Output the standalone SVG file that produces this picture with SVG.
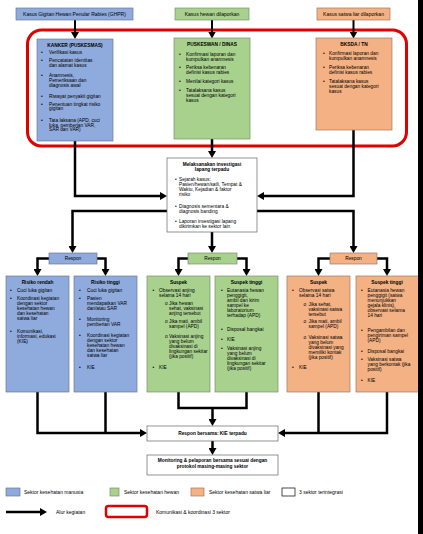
<svg xmlns="http://www.w3.org/2000/svg" width="423" height="534" viewBox="0 0 423 534">
<style>
text{font-family:"Liberation Sans",Arial,sans-serif;font-size:4.8px;fill:#000}
.b{font-weight:bold}
.m{text-anchor:middle}
.top{font-size:5px}
.lg{font-size:5px}
.blue{fill:#8faadc;stroke:#6b7a99;stroke-width:0.7}
.green{fill:#a9d18e;stroke:#7a8f6b;stroke-width:0.7}
.orange{fill:#f4b183;stroke:#9a7a66;stroke-width:0.7}
.white{fill:#fff;stroke:#666;stroke-width:0.7}
.c{fill:none;stroke:#000;stroke-width:2.5}
.ca{fill:none;stroke:#000;stroke-width:2.5;marker-end:url(#ah)}
.ct{fill:none;stroke:#000;stroke-width:2;marker-end:url(#ah)}
</style>
<defs>
<marker id="ah" markerUnits="userSpaceOnUse" markerWidth="7" markerHeight="8" refX="1" refY="4" orient="auto">
<path d="M0,0 L7,4 L0,8 z" fill="#000"/>
</marker>
</defs>
<rect width="423" height="534" fill="#fff"/>

<rect id="coord-frame" x="27.5" y="30" width="379" height="116" rx="14" fill="none" stroke="#e00000" stroke-width="3"/>

<g id="connectors">
<path class="ct" d="M75,20 V33"/>
<path class="ct" d="M212,20 V32.5"/>
<path class="ct" d="M353.5,20 V32.5"/>
<path class="ca" d="M75,141 V196 H161"/>
<path class="ca" d="M353.5,130 V196 H263"/>
<path class="ca" d="M212,139 V152"/>
<path class="ca" d="M167,211 H72.5 V247"/>
<path class="ca" d="M257,211 H353.5 V247"/>
<path class="ca" d="M212,232 V247"/>
<path class="ca" d="M49,258.5 H37.5 V270"/>
<path class="ca" d="M97,258.5 H105.5 V270"/>
<path class="ca" d="M188,258.5 H178.5 V270"/>
<path class="ca" d="M237,258.5 H246.5 V270"/>
<path class="ca" d="M330,258.5 H318.5 V270"/>
<path class="ca" d="M377,258.5 H387 V270"/>
<path class="ca" d="M37.5,392 V433 H141"/>
<path class="c" d="M105.5,392 V433"/>
<path class="c" d="M178.5,392 V408 H246.5 V392"/>
<path class="ca" d="M212.5,408 V420"/>
<path class="ca" d="M387,392 V433 H284"/>
<path class="c" d="M318.5,392 V433"/>
<path class="ca" d="M212.5,441 V449"/>
</g>

<g id="top-ghpr">
<rect class="blue" x="16" y="8" width="117" height="12"/>
<text class="m top" x="74.5" y="15.8">Kasus Gigitan Hewan Penular Rabies (GHPR)</text>
</g>
<g id="top-hewan">
<rect class="green" x="175" y="8" width="74" height="12"/>
<text class="m top" x="212" y="15.8">Kasus hewan dilaporkan</text>
</g>
<g id="top-satwa">
<rect class="orange" x="317" y="8" width="73" height="12"/>
<text class="m top" x="353.5" y="15.8">Kasus satwa liar dilaporkan</text>
</g>

<g id="puskesmas">
<rect class="blue" x="37" y="39" width="76" height="102"/>
<text class="m b" x="75" y="46.5">KANKER (PUSKESMAS)</text>
<text x="41" y="54.2">•</text><text x="49" y="54.2">Verifikasi kasus</text>
<text x="41" y="62.2">•</text><text x="49" y="62.2">Pencatatan identitas</text>
<text x="49" y="66.9">dan alamat kasus</text>
<text x="41" y="77.2">•</text><text x="49" y="77.2">Anamnesis,</text>
<text x="49" y="82.2">Pemeriksaan dan</text>
<text x="49" y="87.2">diagnosis awal</text>
<text x="41" y="98.2">•</text><text x="49" y="98.2">Riwayat penyakit gigitan</text>
<text x="41" y="105.5">•</text><text x="49" y="105.5">Penentuan tingkat risiko</text>
<text x="49" y="110.2">gigitan</text>
<text x="41" y="121.5">•</text><text x="49" y="121.5">Tata laksana (APD, cuci</text>
<text x="49" y="126.5">luka, pemberian VAR,</text>
<text x="49" y="131.2">SAR dan VAR)</text>
</g>

<g id="puskeswan">
<rect class="green" x="174" y="38" width="76" height="101"/>
<text class="m b" x="212" y="45.5">PUSKESWAN / DINAS</text>
<text x="179" y="55.5">•</text><text x="186" y="55.5">Konfirmasi laporan dan</text>
<text x="186" y="60.5">kumpulkan anamnesis</text>
<text x="179" y="69.2">•</text><text x="186" y="69.2">Periksa kebenaran</text>
<text x="186" y="74.2">definisi kasus rabies</text>
<text x="179" y="83.2">•</text><text x="186" y="83.2">Menilai kategori kasus</text>
<text x="179" y="91.5">•</text><text x="186" y="91.5">Tatalaksana kasus</text>
<text x="186" y="96.5">sesuai dengan kategori</text>
<text x="186" y="101.5">kasus</text>
</g>

<g id="bksda">
<rect class="orange" x="316" y="38" width="76" height="92"/>
<text class="m b" x="354" y="45.5">BKSDA / TN</text>
<text x="323" y="54.5">•</text><text x="329" y="54.5">Konfirmasi laporan dan</text>
<text x="329" y="59.5">kumpulkan anamnesis</text>
<text x="323" y="69.2">•</text><text x="329" y="69.2">Periksa kebenaran</text>
<text x="329" y="74.2">definisi kasus rabies</text>
<text x="323" y="83.2">•</text><text x="329" y="83.2">Tatalaksana kasus</text>
<text x="329" y="88.2">sesuai dengan kategori</text>
<text x="329" y="93.2">kasus</text>
</g>

<g id="investigasi">
<rect class="white" x="167" y="158" width="90" height="74"/>
<text class="m b" x="212" y="165.5">Melaksanakan investigasi</text>
<text class="m b" x="212" y="170.5">lapang terpadu</text>
<text x="175" y="180.8">•</text><text x="179" y="180.8">Sejarah kasus:</text>
<text x="179" y="185.8">Pasien/hewan/satli, Tempat &amp;</text>
<text x="179" y="190.8">Waktu, Kejadian &amp; faktor</text>
<text x="179" y="195.8">risiko</text>
<text x="175" y="207.5">•</text><text x="179" y="207.5">Diagnosis sementara &amp;</text>
<text x="179" y="212.5">diagnosis banding</text>
<text x="175" y="222.5">•</text><text x="179" y="222.5">Laporan investigasi lapang</text>
<text x="179" y="227.5">dikirimkan ke sektor lain</text>
</g>

<g id="respon-manusia">
<rect class="blue" x="49" y="253" width="48" height="11"/>
<text class="m" x="73" y="260.2">Respon</text>
</g>
<g id="respon-hewan">
<rect class="green" x="188" y="253" width="49" height="11"/>
<text class="m" x="212.5" y="260.2">Respon</text>
</g>
<g id="respon-satwa">
<rect class="orange" x="330" y="253" width="47" height="11"/>
<text class="m" x="353.5" y="260.2">Respon</text>
</g>

<g id="risiko-rendah">
<rect class="blue" x="6" y="276" width="63" height="116"/>
<text class="m b" x="37.5" y="284.2">Risiko rendah</text>
<text x="10" y="292.2">•</text><text x="17" y="292.2">Cuci luka gigitan</text>
<text x="10" y="299.8">•</text><text x="17" y="299.8">Koordinasi kegiatan</text>
<text x="17" y="304.8">dengan sektor</text>
<text x="17" y="309.8">kesehatan hewan</text>
<text x="17" y="314.8">dan kesehatan</text>
<text x="17" y="319.8">satwa liar</text>
<text x="10" y="333.2">•</text><text x="17" y="333.2">Komunikasi,</text>
<text x="17" y="338.2">informasi, edukasi</text>
<text x="17" y="343.2">(KIE)</text>
</g>

<g id="risiko-tinggi">
<rect class="blue" x="74" y="276" width="63" height="116"/>
<text class="m b" x="105.5" y="284.2">Risiko tinggi</text>
<text x="79" y="292.2">•</text><text x="87" y="292.2">Cuci luka gigitan</text>
<text x="79" y="299.8">•</text><text x="87" y="299.8">Pasien</text>
<text x="87" y="304.8">mendapatkan VAR</text>
<text x="87" y="309.8">dan/atau SAR</text>
<text x="79" y="320.8">•</text><text x="87" y="320.8">Monitoring</text>
<text x="87" y="325.8">pemberian VAR</text>
<text x="79" y="336.5">•</text><text x="87" y="336.5">Koordinasi kegiatan</text>
<text x="87" y="341.5">dengan sektor</text>
<text x="87" y="346.5">kesehatan hewan</text>
<text x="87" y="351.5">dan kesehatan</text>
<text x="87" y="356.5">satwa liar</text>
<text x="79" y="368.8">•</text><text x="87" y="368.8">KIE</text>
</g>

<g id="suspek-hewan">
<rect class="green" x="147" y="276" width="63" height="116"/>
<text class="m b" x="178.5" y="284.2">Suspek</text>
<text x="152.5" y="291.5">•</text><text x="159" y="291.5">Observasi anjing</text>
<text x="159" y="296.5">selama 14 hari</text>
<text x="165" y="304.8">o</text><text x="169" y="304.8">Jika hewan</text>
<text x="169" y="309.8">sehat, vaksinasi</text>
<text x="169" y="314.8">anjing tersebut</text>
<text x="165" y="323.2">o</text><text x="169" y="323.2">Jika mati, ambil</text>
<text x="169" y="327.9">sampel (APD)</text>
<text x="165" y="337.5">o</text><text x="169" y="337.5">Vaksinasi anjing</text>
<text x="169" y="342.5">yang belum</text>
<text x="169" y="347.5">divaksinasi di</text>
<text x="169" y="352.5">lingkungan sekitar</text>
<text x="169" y="357.5">(jika positif)</text>
<text x="152.5" y="368.8">•</text><text x="159" y="368.8">KIE</text>
</g>

<g id="suspek-tinggi-hewan">
<rect class="green" x="215" y="276" width="63" height="116"/>
<text class="m b" x="246.5" y="284.2">Suspek tinggi</text>
<text x="221" y="291.5">•</text><text x="227" y="291.5">Eutanasia hewan</text>
<text x="227" y="296.5">penggigit,</text>
<text x="227" y="301.5">ambil dan kirim</text>
<text x="227" y="306.5">sampel ke</text>
<text x="227" y="311.5">laboratorium</text>
<text x="227" y="316.5">terhadap (APD)</text>
<text x="221" y="330.8">•</text><text x="227" y="330.8">Disposal bangkai</text>
<text x="221" y="340.8">•</text><text x="227" y="340.8">KIE</text>
<text x="221" y="349.8">•</text><text x="227" y="349.8">Vaksinasi anjing</text>
<text x="227" y="354.8">yang belum</text>
<text x="227" y="359.8">divaksinasi di</text>
<text x="227" y="364.8">lingkungan sekitar</text>
<text x="227" y="369.8">(jika positif)</text>
</g>

<g id="suspek-satwa">
<rect class="orange" x="287" y="276" width="63" height="116"/>
<text class="m b" x="318.5" y="284.2">Suspek</text>
<text x="292" y="292.2">•</text><text x="299" y="292.2">Observasi satwa</text>
<text x="299" y="297.2">selama 14 hari</text>
<text x="303.5" y="305.8">o</text><text x="308.5" y="305.8">Jika sehat,</text>
<text x="308.5" y="310.8">vaksinasi satwa</text>
<text x="308.5" y="315.8">tersebut</text>
<text x="303.5" y="323.2">o</text><text x="308.5" y="323.2">Jika mati, ambil</text>
<text x="308.5" y="327.9">sampel (APD)</text>
<text x="303.5" y="338.8">o</text><text x="308.5" y="338.8">Vaksinasi satwa</text>
<text x="308.5" y="343.8">yang belum</text>
<text x="308.5" y="348.8">divaksinasi yang</text>
<text x="308.5" y="353.8">memiliki kontak</text>
<text x="308.5" y="358.8">(jika positif)</text>
<text x="292" y="369.2">•</text><text x="299" y="369.2">KIE</text>
</g>

<g id="suspek-tinggi-satwa">
<rect class="orange" x="356" y="276" width="64" height="116"/>
<text class="m b" x="387" y="284.2">Suspek tinggi</text>
<text x="361" y="291.5">•</text><text x="367.5" y="291.5">Eutanasia hewan</text>
<text x="367.5" y="296.5">penggigit (satwa</text>
<text x="367.5" y="301.5">menunjukkan</text>
<text x="367.5" y="306.5">gejala klinis),</text>
<text x="367.5" y="311.5">observasi selama</text>
<text x="367.5" y="316.5">14 hari</text>
<text x="361" y="331.5">•</text><text x="367.5" y="331.5">Pengambilan dan</text>
<text x="367.5" y="336.5">pengiriman sampel</text>
<text x="367.5" y="341.5">(APD)</text>
<text x="361" y="353.2">•</text><text x="367.5" y="353.2">Disposal bangkai</text>
<text x="361" y="360.5">•</text><text x="367.5" y="360.5">Vaksinasi satwa</text>
<text x="367.5" y="365.5">yang berkontak (jika</text>
<text x="367.5" y="370.5">positif)</text>
<text x="361" y="381.5">•</text><text x="367.5" y="381.5">KIE</text>
</g>

<g id="respon-bersama">
<rect class="white" x="147" y="426" width="131" height="15"/>
<text class="m b" x="212.5" y="435">Respon bersama: KIE terpadu</text>
</g>
<g id="monitoring">
<rect class="white" x="147" y="455" width="131" height="20"/>
<text class="m b" x="212.5" y="462.3">Monitoring &amp; pelaporan bersama sesuai dengan</text>
<text class="m b" x="212.5" y="468.3">protokol masing-masing sektor</text>
</g>

<g id="legend">
<rect class="blue" x="6" y="488" width="14" height="8"/>
<text class="lg" x="24" y="493.8">Sektor kesehatan manusia</text>
<rect class="green" x="110" y="488" width="9" height="8"/>
<text class="lg" x="124" y="493.8">Sektor kesehatan hewan</text>
<rect class="orange" x="191" y="488" width="13" height="8"/>
<text class="lg" x="209" y="493.8">Sektor kesehatan satwa liar</text>
<rect class="white" x="282" y="488" width="13" height="8" style="stroke:#000"/>
<text class="lg" x="299" y="493.8">3 sektor terintegrasi</text>
<path class="ca" d="M6,512 H41"/>
<text class="lg" x="56" y="513.8">Alur kegiatan</text>
<rect x="106" y="506" width="41" height="11" rx="2.5" fill="#fff" stroke="#e00000" stroke-width="2.5"/>
<text class="lg" x="156" y="513.8">Komunikasi &amp; koordinasi 3 sektor</text>
</g>

<rect x="418" y="0" width="5" height="534" fill="#000"/>
</svg>
